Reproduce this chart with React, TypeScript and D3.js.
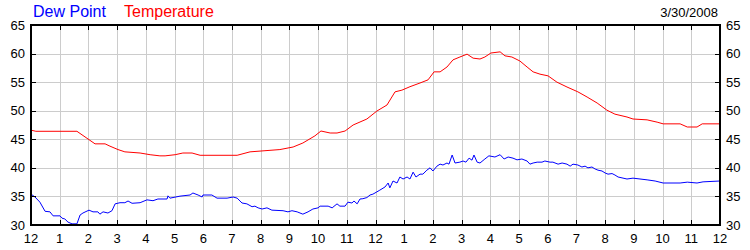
import React from "react";
import * as d3 from "d3";

const hourLabels = ["12","1","2","3","4","5","6","7","8","9","10","11","12","1","2","3","4","5","6","7","8","9","10","11","12"];
const yTicks = [30, 35, 40, 45, 50, 55, 60, 65];
const legendTitles = ["Dew Point", "Temperature"];
const dateLabel = "3/30/2008";

const tempHours = [0,0.17,1.6,2.23,2.58,2.75,3.03,3.27,3.8,4.15,4.49,4.67,5.02,5.29,5.61,5.89,7.18,7.63,8.15,8.67,9.13,9.47,9.89,10.1,10.42,10.66,10.94,11.22,11.7,12.05,12.4,12.68,12.92,13.2,13.55,13.83,14.04,14.25,14.49,14.7,14.94,15.19,15.4,15.64,15.81,16.02,16.34,16.51,16.75,17.03,17.28,17.49,17.73,18.01,18.32,18.67,19.05,19.37,19.72,20.06,20.34,20.76,20.97,21.46,21.81,22.02,22.61,22.86,23.2,23.38,24];
const tempValues = [46.6,46.4,46.4,44.2,44.2,43.8,43.2,42.8,42.6,42.3,42.1,42.1,42.3,42.6,42.6,42.2,42.2,42.8,43.0,43.2,43.65,44.35,45.6,46.45,46.1,46.1,46.45,47.5,48.55,49.95,51.0,53.3,53.6,54.2,54.85,55.4,56.8,56.8,57.65,58.9,59.4,59.9,59.2,59.05,59.4,60.1,60.3,59.6,59.4,58.7,57.65,56.8,56.4,56.1,55.0,54.15,53.3,52.4,51.35,50.1,49.4,48.9,48.55,48.4,48.0,47.7,47.7,47.15,47.15,47.7,47.7];

const dewHours = [0,0.14,0.31,0.49,0.66,0.77,1.01,1.08,1.18,1.29,1.43,1.6,1.71,1.81,2.02,2.16,2.33,2.4,2.51,2.68,2.82,2.93,3.1,3.27,3.38,3.52,3.8,4.04,4.25,4.42,4.74,4.77,4.84,5.19,5.54,5.64,5.82,5.96,5.99,6.3,6.48,6.83,7.04,7.18,7.35,7.52,7.7,7.8,7.91,8.05,8.22,8.39,8.78,8.95,9.09,9.27,9.47,9.65,9.82,10.0,10.07,10.35,10.49,10.66,10.76,10.94,11.04,11.18,11.25,11.36,11.46,11.56,11.7,11.81,11.91,12.05,12.15,12.33,12.44,12.5,12.61,12.75,12.85,12.96,13.1,13.2,13.31,13.41,13.55,13.65,13.79,13.9,14.0,14.14,14.25,14.35,14.49,14.56,14.67,14.77,14.94,15.05,15.15,15.26,15.36,15.43,15.54,15.64,15.81,15.95,16.16,16.34,16.48,16.62,16.79,16.93,17.1,17.28,17.38,17.49,17.63,17.8,17.9,18.08,18.18,18.36,18.5,18.67,18.78,18.88,19.05,19.19,19.3,19.4,19.54,19.65,19.75,19.89,20.0,20.1,20.24,20.34,20.45,20.76,20.97,21.46,21.74,22.02,22.61,22.86,23.2,23.41,24];
const dewValues = [35.4,34.9,34.0,32.4,32.3,31.6,31.6,31.2,31.05,30.5,30.2,30.2,31.75,32.1,32.6,32.3,32.3,31.9,32.3,32.1,32.5,33.7,33.9,33.9,34.2,33.8,33.9,34.4,34.25,34.55,34.55,35.1,34.7,35.05,35.25,35.6,35.25,34.9,35.25,35.25,34.7,34.7,34.9,34.7,33.85,33.7,33.2,33.3,33.0,32.8,33.0,32.6,32.5,32.3,32.5,32.3,31.9,32.3,32.8,33.0,33.3,33.3,33.0,33.7,33.3,33.3,34.0,33.85,34.2,33.7,34.55,34.6,34.8,35.25,35.4,35.8,36.1,36.65,37.35,36.5,37.7,37.35,38.4,38.05,38.4,38.05,39.25,38.4,38.9,38.9,39.6,40.0,39.45,40.3,40.65,40.5,40.85,40.65,42.25,40.85,41.0,41.2,41.0,41.7,41.35,42.25,41.0,40.85,41.55,42.1,41.9,42.3,41.55,41.9,41.7,41.4,41.55,41.2,40.65,40.85,41.0,41.0,41.2,41.0,41.0,40.65,40.85,40.65,40.3,40.65,40.5,40.15,40.3,40.0,40.15,39.8,39.6,39.45,39.1,38.9,39.0,38.75,38.4,38.05,38.2,37.9,37.7,37.35,37.35,37.5,37.35,37.55,37.7];

const W = 750, H = 250;
const L = 31, R = 720, T = 25, B = 225;
const FONT = "'Liberation Sans', Arial, sans-serif";

export default function App() {
  const x = d3.scaleLinear().domain([0, 24]).range([L, R]);
  const y = d3.scaleLinear().domain([30, 65]).range([B, T]);
  const line = d3.line<[number, number]>().x(d => x(d[0])).y(d => y(d[1]));
  const tempPts: [number, number][] = tempHours.map((h, i) => [h, tempValues[i]]);
  const dewPts: [number, number][] = dewHours.map((h, i) => [h, dewValues[i]]);
  const hours = d3.range(0, 25);
  return (
    <svg width={W} height={H} style={{ position: "absolute", left: 0, top: 0, background: "#fff" }} fontFamily={FONT}>
      <rect x={0} y={0} width={W} height={H} fill="#fff" />
      {hours.slice(1, -1).map(h => (
        <line key={"gx" + h} x1={Math.round(x(h)) + 0.5} x2={Math.round(x(h)) + 0.5} y1={T} y2={B} stroke="#cccccc" strokeWidth={1} />
      ))}
      {yTicks.slice(1, -1).map(v => (
        <line key={"gy" + v} x1={L} x2={R} y1={Math.round(y(v)) + 0.5} y2={Math.round(y(v)) + 0.5} stroke="#cccccc" strokeWidth={1} />
      ))}
      <path d={line(dewPts) || ""} fill="none" stroke="#0000ff" strokeWidth={1} />
      <path d={line(tempPts) || ""} fill="none" stroke="#ff0000" strokeWidth={1} />
      {hours.slice(1, -1).map(h => (
        <g key={"tk" + h}>
          <line x1={Math.round(x(h)) + 0.5} x2={Math.round(x(h)) + 0.5} y1={T} y2={T + 5} stroke="#000" />
          <line x1={Math.round(x(h)) + 0.5} x2={Math.round(x(h)) + 0.5} y1={B} y2={B - 5} stroke="#000" />
        </g>
      ))}
      {yTicks.slice(1, -1).map(v => (
        <g key={"ty" + v}>
          <line x1={L} x2={L + 5} y1={Math.round(y(v)) + 0.5} y2={Math.round(y(v)) + 0.5} stroke="#000" />
          <line x1={R} x2={R - 5} y1={Math.round(y(v)) + 0.5} y2={Math.round(y(v)) + 0.5} stroke="#000" />
        </g>
      ))}
      <rect x={L} y={T} width={R - L} height={B - T} fill="none" stroke="#000" strokeWidth={2} />
      {yTicks.map(v => (
        <g key={"yl" + v}>
          <text x={25} y={y(v)} dy="0.35em" textAnchor="end" fontSize={13} fill="#000">{v}</text>
          <text x={726} y={y(v)} dy="0.35em" textAnchor="start" fontSize={13} fill="#000">{v}</text>
        </g>
      ))}
      {hours.map(h => (
        <text key={"xl" + h} x={x(h)} y={238} dy="0.35em" textAnchor="middle" fontSize={13} fill="#000">{hourLabels[h]}</text>
      ))}
      <text x={33} y={17} fontSize={16} fill="#0000ff">{legendTitles[0]}</text>
      <text x={124} y={17} fontSize={16} fill="#ff0000">{legendTitles[1]}</text>
      <text x={718} y={17} textAnchor="end" fontSize={13} fill="#000">{dateLabel}</text>
    </svg>
  );
}
